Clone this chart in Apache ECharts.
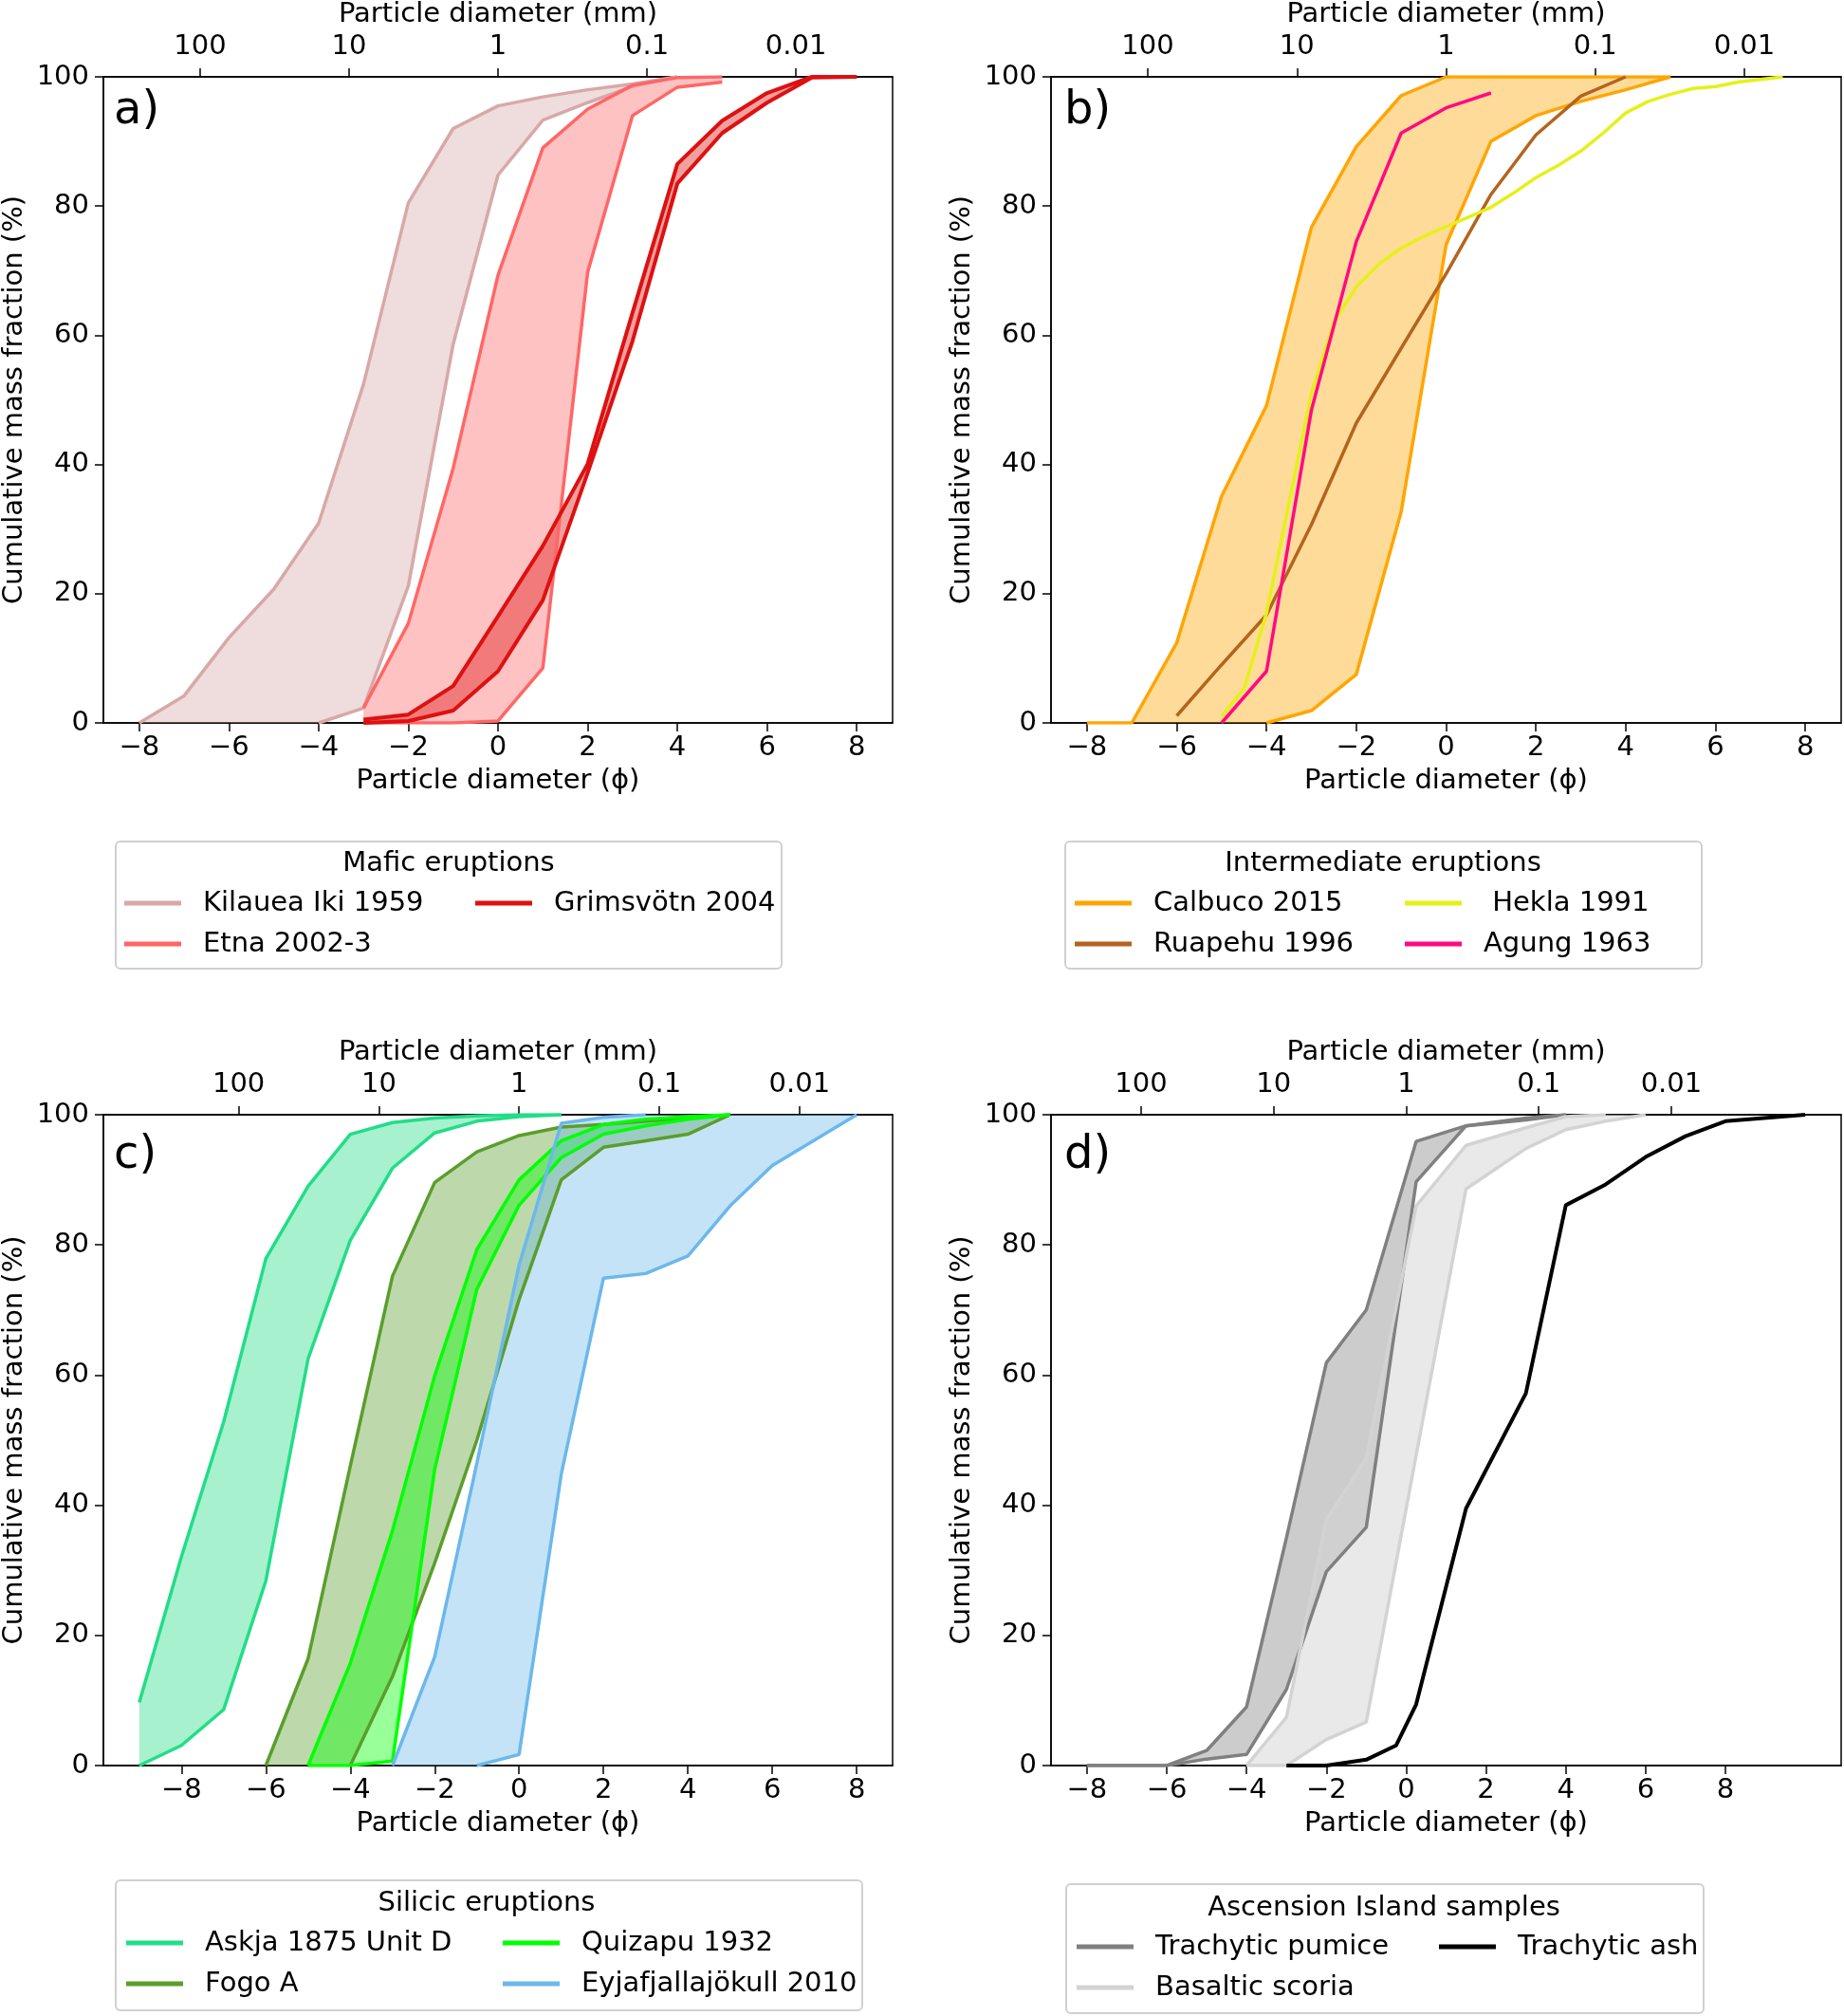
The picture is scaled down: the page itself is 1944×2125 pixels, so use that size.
<!DOCTYPE html>
<html><head><meta charset="utf-8">
<script src="https://cdn.jsdelivr.net/npm/echarts@6/dist/echarts.min.js"></script>
<style>html,body{margin:0;padding:0;background:#fff}#c{width:1944px;height:2125px}</style>
</head><body><div id="c"></div>
<script>
// ---------- tick labels ----------
const phiTicks = [-8,-6,-4,-2,0,2,4,6,8];
const mmTicks = [100,10,1,0.1,0.01];
const mmTickLabels = ['100','10','1','0.1','0.01'];

// ---------- panel a: Mafic ----------
const kilaueaUpperX = [-8,-7,-6,-5,-4,-3,-2,-1,0,1,2,3,4];
const kilaueaUpperY = [0,4.2,13.2,20.7,30.9,52.4,80.5,92,95.5,96.9,98,98.9,100];
const kilaueaLowerX = [-8,-4,-3,-2,-1,0,1,2,3,4];
const kilaueaLowerY = [0,0,2.3,21.2,58.6,84.8,93.3,96,98.5,100];
const etnaUpperX = [-3,-2,-1,0,1,2,3,4,5];
const etnaUpperY = [2.3,15.4,39.4,69.3,89,95,98.7,99.9,100];
const etnaLowerX = [-3,-2,-1,0,1,2,3,4,5];
const etnaLowerY = [0,0,0,0.3,8.5,69.8,94,98.4,99.2];
const grimsUpperX = [-3,-2,-1,0,1,2,3,4,5,6,7,8];
const grimsUpperY = [0.5,1.3,5.7,16.5,27.4,40.1,63.5,86.5,93.2,97.5,100,100];
const grimsLowerX = [-3,-2,-1,0,1,2,3,4,5,6,7,8];
const grimsLowerY = [0,0.3,1.9,8,19,38.7,59.1,83.5,91.3,96,99.9,100];

// ---------- panel b: Intermediate ----------
const calbucoUpperX = [-8,-7,-6,-5,-4,-3,-2,-1,0,1,2,3,4,5];
const calbucoUpperY = [0,0,12.4,35.1,49.1,76.7,89.2,97.1,100,100,100,100,100,100];
const calbucoLowerX = [-8,-4,-3,-2,-1,0,1,2,3,4,5];
const calbucoLowerY = [0,0,1.9,7.5,32.7,74,90,94,96.2,98,100];
const ruapehuX = [-6,-5,-4,-3,-2,-1,0,1,2,3,4];
const ruapehuY = [1.1,9,16.7,30.7,46.4,58,69.5,81.8,91,97,100];
const heklaX = [-5,-4.5,-4,-3.5,-3,-2.5,-2,-1.5,-1,-0.5,0,0.5,1,1.5,2,2.5,3,3.5,4,4.5,5,5.5,6,6.5,7,7.5];
const heklaY = [1,5.3,17,34,51,62,67.5,71,73.5,75.3,76.8,78.3,79.8,82,84.4,86.3,88.5,91.3,94.4,96.2,97.3,98.2,98.5,99.2,99.6,100];
const agungX = [-5,-4,-3,-2,-1,0,1];
const agungY = [0,8,48.4,74.5,91.3,95.2,97.5];

// ---------- panel c: Silicic ----------
const askjaUpperX = [-9,-8,-7,-6,-5,-4,-3,-2,-1,0,1];
const askjaUpperY = [9.7,32.1,52.8,77.9,89,97,98.8,99.5,99.8,100,100];
const askjaLowerX = [-9,-8,-7,-6,-5,-4,-3,-2,-1,0,1];
const askjaLowerY = [0,3.1,8.6,28.4,62.5,80.7,91.8,97.2,99,99.7,100];
const fogoUpperX = [-6,-5,-4,-3,-2,-1,0,1,2,3,4,5];
const fogoUpperY = [0,16.4,46,75.2,89.6,94.3,96.8,98.1,98.5,99,99.5,100];
const fogoLowerX = [-6,-4,-3,-2,-1,0,1,2,3,4,5];
const fogoLowerY = [0,0,13.7,31.1,50,71.6,90,95,96,97,100];
const quizUpperX = [-5,-4,-3,-2,-1,0,1,2,3,4,5];
const quizUpperY = [0,15.7,36.1,59.9,79.3,90,96,98.5,99.3,99.7,100];
const quizLowerX = [-5,-4,-3,-2,-1,0,1,2,3,4,5];
const quizLowerY = [0,0,0.7,45.5,73.2,86.1,93.4,97,98.3,99.3,100];
const eyjaUpperX = [-3,-2,-1,0,1,2,3];
const eyjaUpperY = [0,16.7,46.5,76.9,98.7,99.6,100];
const eyjaLowerX = [-3,-1,0,1,2,3,4,5,6,8];
const eyjaLowerY = [0,0,1.7,44.8,74.9,75.6,78.3,86,92.2,100];

// ---------- panel d: Ascension Island ----------
const pumiceUpperX = [-8,-7,-6,-5,-4,-3,-2,-1,0.25,1.5,3,4];
const pumiceUpperY = [0,0,0,2.3,9,35,61.9,70,95.9,98.3,99.5,100];
const pumiceLowerX = [-8,-7,-6,-5,-4,-3,-2,-1,0.25,1.5,3,4];
const pumiceLowerY = [0,0,0,1,1.7,11.7,29.8,36.6,89.7,98.3,99.2,100];
const scoriaUpperX = [-8,-4,-3,-2,-1,0.25,1.5,3,4,5];
const scoriaUpperY = [0,0,7.4,37.8,47.2,86,95.3,98,99.7,100];
const scoriaLowerX = [-8,-4,-3,-2,-1,1.5,3,4,5,6];
const scoriaLowerY = [0,0,0,4,6.7,88.6,94.8,97.7,99,100];
const ashX = [-3,-2,-1,-0.25,0.25,1.5,3,4,5,6,7,8,10];
const ashY = [0,0,0.9,3.1,9.4,39.5,57.2,86.1,89.3,93.5,96.7,99,100];

// ---------- build ----------
const F = 'DejaVu Sans';
const FS = 29;
const grids = [
  {left:108, top:74, width:833, height:688},
  {left:1108, top:74, width:833, height:688},
  {left:108, top:1175, width:833, height:686},
  {left:1108, top:1175, width:833, height:686}
];
const xRanges = [[-8.8,8.8],[-8.8,8.8],[-9.85,8.85],[-8.9,10.9]];
const topPhi = mmTicks.map(d => -Math.log2(d));
const minus = v => String(v).replace('-', '\u2212');

const xAxes = [], yAxes = [];
grids.forEach((g, i) => {
  const common = {
    type:'value', gridIndex:i, min:xRanges[i][0], max:xRanges[i][1],
    splitLine:{show:false},
    axisLine:{show:true, onZero:false, lineStyle:{color:'#000', width:1.5}},
    nameLocation:'middle', nameTextStyle:{fontFamily:F, fontSize:FS, color:'#000'}
  };
  xAxes.push(Object.assign({}, common, {
    position:'bottom', name:'Particle diameter (\u03d5)', nameGap:47,
    axisTick:{show:true, length:9, lineStyle:{color:'#000', width:1.5}, customValues:phiTicks},
    axisLabel:{fontFamily:F, fontSize:FS, color:'#000', margin:12, customValues:phiTicks, formatter:v => minus(v)}
  }));
  xAxes.push(Object.assign({}, common, {
    position:'top', name:'Particle diameter (mm)', nameGap:51,
    axisTick:{show:true, length:9, lineStyle:{color:'#000', width:1.5}, customValues:topPhi},
    axisLabel:{fontFamily:F, fontSize:FS, color:'#000', margin:17, customValues:topPhi,
      formatter:v => { let k=0, best=1e9; topPhi.forEach((p,j)=>{ if (Math.abs(p-v)<best){best=Math.abs(p-v);k=j;} }); return mmTickLabels[k]; }}
  }));
  yAxes.push({
    type:'value', gridIndex:i, min:0, max:100, interval:20,
    splitLine:{show:false},
    axisLine:{show:true, onZero:false, lineStyle:{color:'#000', width:1.5}},
    axisTick:{show:true, length:9, lineStyle:{color:'#000', width:1.5}},
    axisLabel:{fontFamily:F, fontSize:FS, color:'#000', margin:15},
    name:'Cumulative mass fraction (%)', nameLocation:'middle', nameGap:79,
    nameTextStyle:{fontFamily:F, fontSize:FS, color:'#000'}
  });
});

const pairs = (xs, ys) => xs.map((x, i) => [x, ys[i]]);
function band(g, ux, uy, lx, ly, fill) {
  return {
    type:'custom', xAxisIndex:2*g, yAxisIndex:g, silent:true, z:1, animation:false,
    data:[[ux[0], uy[0]]],
    renderItem: function(params, api) {
      const pts = [];
      for (let i = 0; i < ux.length; i++) pts.push(api.coord([ux[i], uy[i]]));
      for (let i = lx.length - 1; i >= 0; i--) pts.push(api.coord([lx[i], ly[i]]));
      return {type:'polygon', shape:{points:pts}, style:{fill:fill}};
    }
  };
}
function line(g, name, xs, ys, color, w) {
  return {
    type:'line', name:name, xAxisIndex:2*g, yAxisIndex:g, data:pairs(xs, ys),
    showSymbol:false, symbol:'none', z:2, animation:false, color:color,
    lineStyle:{color:color, width:w || 3.5}, itemStyle:{color:color}
  };
}

const C = {
  kil:'#d8a8a8', etna:'#ff6666', grim:'#dd1111',
  cal:'#ffa500', rua:'#b4641e', hek:'#e6f01a', agu:'#ff0a82',
  ask:'#22dd88', fogo:'#5a9e2c', quiz:'#00ff00', eyja:'#6cb8ea',
  pum:'#808080', sco:'#d3d3d3', ash:'#000000'
};
const rgba = (hex, a) => { const n = parseInt(hex.slice(1), 16); return 'rgba(' + (n>>16) + ',' + ((n>>8)&255) + ',' + (n&255) + ',' + a + ')'; };

const series = [
  band(0, kilaueaUpperX, kilaueaUpperY, kilaueaLowerX, kilaueaLowerY, rgba(C.kil, 0.4)),
  band(0, etnaUpperX, etnaUpperY, etnaLowerX, etnaLowerY, rgba(C.etna, 0.4)),
  band(0, grimsUpperX, grimsUpperY, grimsLowerX, grimsLowerY, rgba(C.grim, 0.4)),
  line(0, 'Kilauea Iki 1959', kilaueaUpperX, kilaueaUpperY, C.kil),
  line(0, 'Kilauea Iki 1959', kilaueaLowerX.slice(1), kilaueaLowerY.slice(1), C.kil),
  line(0, 'Etna 2002-3', etnaUpperX, etnaUpperY, C.etna),
  line(0, 'Etna 2002-3', etnaLowerX, etnaLowerY, C.etna),
  line(0, 'Grimsvötn 2004', grimsUpperX, grimsUpperY, C.grim, 4),
  line(0, 'Grimsvötn 2004', grimsLowerX, grimsLowerY, C.grim, 4),

  band(1, calbucoUpperX, calbucoUpperY, calbucoLowerX, calbucoLowerY, rgba(C.cal, 0.4)),
  line(1, 'Calbuco 2015', calbucoUpperX, calbucoUpperY, C.cal),
  line(1, 'Calbuco 2015', calbucoLowerX.slice(1), calbucoLowerY.slice(1), C.cal),
  line(1, 'Ruapehu 1996', ruapehuX, ruapehuY, C.rua),
  line(1, ' Hekla 1991', heklaX, heklaY, C.hek),
  line(1, 'Agung 1963', agungX, agungY, C.agu),

  band(2, askjaUpperX, askjaUpperY, askjaLowerX, askjaLowerY, rgba(C.ask, 0.4)),
  band(2, fogoUpperX, fogoUpperY, fogoLowerX, fogoLowerY, rgba(C.fogo, 0.4)),
  band(2, quizUpperX, quizUpperY, quizLowerX, quizLowerY, rgba(C.quiz, 0.4)),
  band(2, eyjaUpperX, eyjaUpperY, eyjaLowerX, eyjaLowerY, rgba(C.eyja, 0.4)),
  line(2, 'Askja 1875 Unit D', askjaUpperX, askjaUpperY, C.ask),
  line(2, 'Askja 1875 Unit D', askjaLowerX, askjaLowerY, C.ask),
  line(2, 'Fogo A', fogoUpperX, fogoUpperY, C.fogo),
  line(2, 'Fogo A', fogoLowerX.slice(1), fogoLowerY.slice(1), C.fogo),
  line(2, 'Quizapu 1932', quizUpperX, quizUpperY, C.quiz),
  line(2, 'Quizapu 1932', quizLowerX, quizLowerY, C.quiz),
  line(2, 'Eyjafjallajökull 2010', eyjaUpperX, eyjaUpperY, C.eyja),
  line(2, 'Eyjafjallajökull 2010', eyjaLowerX.slice(1), eyjaLowerY.slice(1), C.eyja),

  band(3, pumiceUpperX, pumiceUpperY, pumiceLowerX, pumiceLowerY, rgba(C.pum, 0.4)),
  band(3, scoriaUpperX, scoriaUpperY, scoriaLowerX, scoriaLowerY, rgba(C.sco, 0.5)),
  line(3, 'Trachytic pumice', pumiceUpperX, pumiceUpperY, C.pum),
  line(3, 'Trachytic pumice', pumiceLowerX, pumiceLowerY, C.pum),
  line(3, 'Basaltic scoria', scoriaUpperX.slice(1), scoriaUpperY.slice(1), C.sco),
  line(3, 'Basaltic scoria', scoriaLowerX.slice(1), scoriaLowerY.slice(1), C.sco),
  line(3, 'Trachytic ash', ashX, ashY, C.ash, 4)
];

function legendCol(left, top, names) {
  return {
    orient:'vertical', left:left, top:top, padding:0, selectedMode:false,
    data:names.map(n => ({name:n, icon:'rect'})),
    itemWidth:60, itemHeight:5, itemGap:11,
    textStyle:{fontFamily:F, fontSize:FS, color:'#000', lineHeight:32, padding:[0,0,0,18]}
  };
}
const legends = [
  legendCol(131, 936, ['Kilauea Iki 1959', 'Etna 2002-3']),
  legendCol(501, 936, ['Grimsvötn 2004']),
  legendCol(1133, 936, ['Calbuco 2015', 'Ruapehu 1996']),
  legendCol(1481, 936, [' Hekla 1991', 'Agung 1963']),
  legendCol(133, 2032, ['Askja 1875 Unit D', 'Fogo A']),
  legendCol(530, 2032, ['Quizapu 1932', 'Eyjafjallajökull 2010']),
  legendCol(1135, 2036, ['Trachytic pumice', 'Basaltic scoria']),
  legendCol(1517, 2036, ['Trachytic ash'])
];

function box(x, y, w, h) {
  return {type:'rect', z:0, shape:{x:x, y:y, width:w, height:h, r:5},
    style:{fill:'#fff', stroke:'#d0d0d0', lineWidth:2}};
}
function txt(x, y, s, size, align) {
  return {type:'text', z:5, x:x, y:y,
    style:{text:s, font:size + 'px "' + F + '"', fill:'#000',
      align:align, verticalAlign:'middle', textAlign:align, textVerticalAlign:'middle'}};
}
const graphics = [
  box(122, 887, 702, 134), txt(473, 910, 'Mafic eruptions', FS, 'center'),
  box(1123, 887, 671, 134), txt(1458, 910, 'Intermediate eruptions', FS, 'center'),
  box(122, 1982, 787, 137), txt(513, 2006, 'Silicic eruptions', FS, 'center'),
  box(1124, 1986, 672, 136), txt(1459, 2011, 'Ascension Island samples', FS, 'center'),
  txt(120, 118, 'a)', 48, 'left'),
  txt(1122, 118, 'b)', 48, 'left'),
  txt(120, 1219, 'c)', 48, 'left'),
  txt(1122, 1219, 'd)', 48, 'left')
];

const chart = echarts.init(document.getElementById('c'), null, {renderer:'canvas'});
chart.setOption({
  backgroundColor:'#fff',
  animation:false,
  grid:grids.map(g => Object.assign({show:true, borderColor:'#000', borderWidth:1.5, backgroundColor:'transparent'}, g)),
  xAxis:xAxes,
  yAxis:yAxes,
  legend:legends,
  graphic:graphics,
  series:series
});
</script></body></html>
